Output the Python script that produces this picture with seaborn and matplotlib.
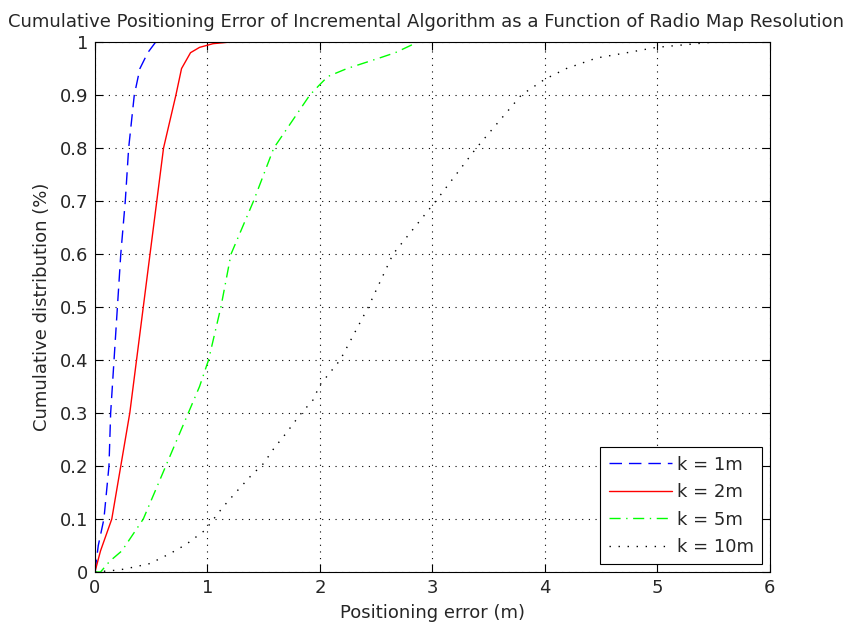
import matplotlib
matplotlib.use("Agg")
import matplotlib.pyplot as plt
import seaborn as sns
import pandas as pd

sns.set_style("ticks")
plt.rcParams['font.family'] = ['DejaVu Sans']

# k = 1m
x_k1 = [0.0, 0.03, 0.08, 0.125, 0.14, 0.17, 0.20, 0.23, 0.27, 0.30, 0.35, 0.40, 0.47, 0.54]
y_k1 = [0.0, 0.05, 0.10, 0.20, 0.30, 0.40, 0.50, 0.60, 0.70, 0.80, 0.90, 0.95, 0.98, 1.00]
# k = 2m
x_k2 = [0.0, 0.05, 0.15, 0.23, 0.31, 0.37, 0.43, 0.49, 0.55, 0.61, 0.72, 0.77, 0.85, 0.93, 1.05, 1.2]
y_k2 = [0.0, 0.04, 0.10, 0.20, 0.30, 0.40, 0.50, 0.60, 0.70, 0.80, 0.90, 0.95, 0.98, 0.99, 0.997, 1.0]
# k = 5m
x_k5 = [0.0, 0.05, 0.13, 0.24, 0.43, 0.63, 0.83, 0.93, 1.01, 1.12, 1.21, 1.41, 1.59, 1.91, 2.0, 2.07, 2.24, 2.53, 2.67, 2.87]
y_k5 = [0.0, 0.0, 0.02, 0.04, 0.10, 0.20, 0.30, 0.35, 0.40, 0.50, 0.60, 0.70, 0.80, 0.90, 0.92, 0.935, 0.95, 0.97, 0.98, 1.0]
# k = 10m
x_k10 = [0.0, 0.22, 0.34, 0.49, 0.67, 0.81, 0.98, 1.07, 1.14, 1.26, 1.38, 1.50, 1.59, 1.70, 1.82, 1.94, 2.0,
         2.18, 2.43, 2.65, 3.03, 3.39, 3.79, 4.0, 4.19, 4.46, 4.73, 4.99, 5.5]
y_k10 = [0.0, 0.004, 0.009, 0.016, 0.035, 0.052, 0.079, 0.104, 0.123, 0.152, 0.18, 0.205, 0.233, 0.262, 0.296, 0.325, 0.353,
         0.40, 0.50, 0.60, 0.70, 0.80, 0.90, 0.93, 0.95, 0.97, 0.98, 0.99, 1.0]

labels = ['k = 1m', 'k = 2m', 'k = 5m', 'k = 10m']
colors = ['#0000ff', '#ff0000', '#00ff00', '#000000']
styles = [(0, (9, 5)), '-', (0, (8, 4, 1, 4)), (0, (1, 5.5))]
series = [(x_k1, y_k1), (x_k2, y_k2), (x_k5, y_k5), (x_k10, y_k10)]

fig = plt.figure(figsize=(8.55, 6.29), dpi=100)
ax = fig.add_axes([0.111, 0.0906, 0.7895, 0.8425])

for (xs, ys), lab, c, ls in zip(series, labels, colors, styles):
    df = pd.DataFrame({'x': xs, 'y': ys})
    sns.lineplot(data=df, x='x', y='y', ax=ax, color=c, linestyle=ls, linewidth=1.0,
                 label=lab, sort=False, estimator=None)

ax.set_xlim(0, 6)
ax.set_ylim(0, 1)
ax.set_xticks([0, 1, 2, 3, 4, 5, 6])
ax.set_yticks([i / 10 for i in range(11)])
ax.set_yticklabels(['0', '0.1', '0.2', '0.3', '0.4', '0.5', '0.6', '0.7', '0.8', '0.9', '1'])
ax.grid(True, color='black', linestyle=(0, (1, 5)), linewidth=0.8)
ax.tick_params(direction='in', length=6, labelsize=13, top=True, right=True, color='black', pad=5)
for s in ax.spines.values():
    s.set_visible(True)
    s.set_color('black')
    s.set_linewidth(0.8)

ax.set_xlabel('Positioning error (m)', fontsize=13, labelpad=5)
ax.set_ylabel('Cumulative distribution (%)', fontsize=13, labelpad=6)
ax.set_title('Cumulative Positioning Error of Incremental Algorithm as a Function of Radio Map Resolution',
             fontsize=13.0, pad=11, x=0.49)

leg = ax.legend(loc='lower right', fontsize=13, frameon=True, fancybox=False,
                edgecolor='black', framealpha=1, handlelength=3.5, handletextpad=0.3,
                labelspacing=0.53, borderpad=0.45, borderaxespad=0.42)
leg.get_frame().set_linewidth(0.8)

fig.savefig('out.png', dpi=100)
